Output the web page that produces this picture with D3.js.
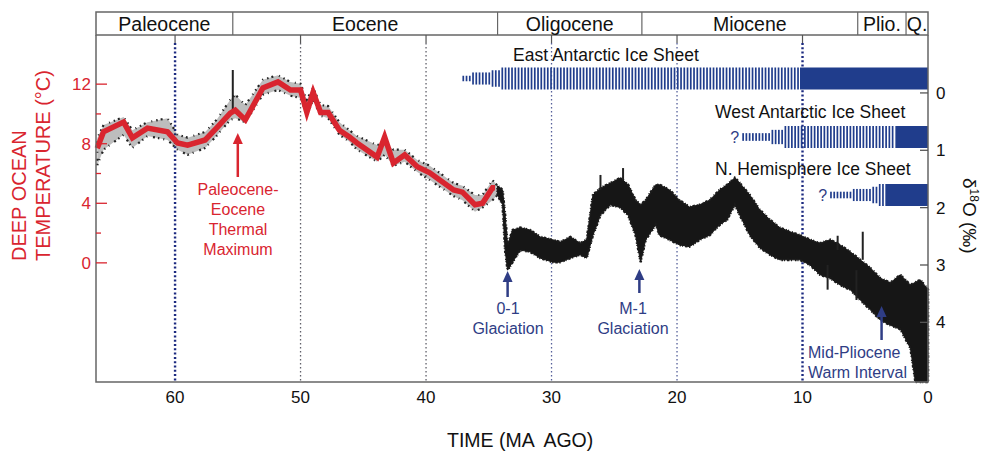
<!DOCTYPE html>
<html>
<head>
<meta charset="utf-8">
<script src="https://cdn.jsdelivr.net/npm/d3@7"></script>
<style>
body { margin: 0; background: #fff; }
text { font-family: "Liberation Sans", Arial, Helvetica, sans-serif; }
</style>
</head>
<body>
<div id="chart-area"></div>
<script>

var canvasWidth = 981
var canvasHeight = 452
var margin = {top: 35, right: 53, bottom: 70, left: 96}
var chartWidth = canvasWidth - margin.left - margin.right
var chartHeight = canvasHeight - margin.top - margin.bottom

var red = "#d9252f"
var navy = "#203d8c"
var noteBlue = "#2f3d85"

// geologic epochs (Ma)
var epochNames = ["Paleocene", "Eocene", "Oligocene", "Miocene", "Plio.", "Q."]
var epochOld = [66.3, 55.4, 34.3, 22.8, 5.6, 1.75]
var epochYoung = [55.4, 34.3, 22.8, 5.6, 1.75, 0]

var gridAges = [60, 50, 40, 30, 20, 10]
var ageTicks = [60, 50, 40, 30, 20, 10, 0]
var tempTicks = [0, 4, 8, 12]
var tempMinorTicks = [2, 6, 10]
var d18oTicks = [0, 1, 2, 3, 4]

// deep ocean temperature (red line)
var tempAge = [66.2, 65.7, 64.1, 63.4, 62.2, 60.6, 59.8, 59.0, 57.6, 56.7, 55.6, 55.2, 54.4, 53.0, 51.8, 50.8, 50.0, 49.5, 49.0, 48.4, 47.8, 46.9, 46.1, 45.5, 43.9, 43.3, 42.6, 41.7, 40.7, 39.7, 37.8, 37.1, 36.1, 35.5, 34.7, 34.5]
var tempC = [7.7, 8.8, 9.45, 8.4, 9.05, 8.8, 8.05, 7.9, 8.25, 9.05, 10.05, 10.25, 9.6, 11.75, 12.15, 11.6, 11.6, 10.1, 11.45, 10.1, 10.1, 8.9, 8.45, 8.05, 7.1, 8.45, 6.7, 7.25, 6.45, 6.05, 4.9, 4.75, 3.9, 4.0, 5.05, 5.05]

// benthic d18O record (black band: low / high envelope, per mil)
var d18oAge = [66.2, 65.7, 64.1, 63.4, 62.2, 60.6, 59.8, 59.0, 57.6, 56.7, 55.6, 55.2, 54.4, 53.0, 51.8, 50.8, 50.0, 49.5, 49.0, 48.4, 47.8, 46.9, 46.1, 45.5, 43.9, 43.3, 42.6, 41.7, 40.7, 39.7, 37.8, 37.1, 36.1, 35.5, 34.7,
  34.3, 33.9, 33.7, 33.5, 33.1, 32.5, 31.7, 30.9, 29.9, 29.3, 28.5, 27.7, 27.2, 26.7, 26.1, 25.3, 24.5, 23.9, 23.3, 22.9, 22.5, 21.7, 21.4, 20.6, 19.8, 19.0, 18.2, 17.4, 16.6, 16.0, 15.4, 15.0, 14.2, 13.4, 12.6, 11.8, 11.0, 10.2, 9.4, 8.6, 7.8, 7.0, 6.2, 5.4, 4.6, 3.8, 3.0, 2.2, 1.4, 1.0, 0.6, 0.0]
var d18oLow = [0.79, 0.56, 0.42, 0.65, 0.51, 0.44, 0.73, 0.78, 0.68, 0.47, 0.12, 0.03, 0.21, -0.23, -0.31, -0.19, -0.16, 0.12, -0.09, 0.21, 0.23, 0.51, 0.65, 0.75, 0.91, 0.87, 0.99, 0.99, 1.17, 1.27, 1.57, 1.62, 1.78, 1.78, 1.52,
  1.62, 1.69, 2.13, 2.65, 2.39, 2.35, 2.39, 2.51, 2.56, 2.60, 2.51, 2.62, 2.56, 1.78, 1.66, 1.57, 1.48, 1.60, 1.87, 1.95, 1.87, 1.60, 1.60, 1.69, 1.87, 1.99, 1.95, 1.87, 1.69, 1.60, 1.48, 1.57, 1.78, 2.04, 2.21, 2.35, 2.42, 2.48, 2.56, 2.62, 2.56, 2.65, 2.77, 2.91, 3.05, 3.23, 3.31, 3.17, 3.35, 3.30, 3.26, 3.43]
var d18oHigh = [1.26, 0.99, 0.73, 0.96, 0.75, 0.82, 0.99, 1.08, 0.96, 0.75, 0.47, 0.44, 0.51, 0.03, -0.05, 0.05, 0.09, 0.38, 0.12, 0.40, 0.44, 0.73, 0.85, 0.99, 1.20, 1.08, 1.27, 1.20, 1.38, 1.52, 1.80, 1.87, 2.07, 2.00, 1.87,
  1.78, 1.95, 2.74, 3.09, 2.95, 2.74, 2.77, 2.88, 2.95, 2.95, 2.88, 2.82, 2.88, 2.48, 2.13, 1.95, 2.00, 2.13, 2.48, 2.95, 2.56, 2.30, 2.48, 2.56, 2.65, 2.68, 2.56, 2.48, 2.30, 2.21, 1.95, 2.13, 2.48, 2.70, 2.82, 2.91, 2.91, 2.91, 3.00, 3.17, 3.23, 3.35, 3.43, 3.61, 3.78, 3.96, 4.05, 4.12, 4.45, 5.04, 5.04, 5.04]

// isolated excursions in the d18O record [age, from, to]
var d18oSpikes = [[55.4, -0.40, 0.30], [26.1, 1.43, 1.69], [24.3, 1.31, 1.52], [8.0, 3.00, 3.43], [7.2, 2.49, 2.74], [5.7, 3.09, 3.61], [5.2, 2.42, 2.91]]

// ice sheets
var iceNames = ["East Antarctic Ice Sheet", "West Antarctic Ice Sheet", "N. Hemisphere Ice Sheet"]
var iceSolidFrom = [10.2, 2.6, 3.4]
var iceTaperAge = [[37.1, 36.5, 34.9, 34.1], [14.8, 12.6, 11.5], [7.8, 6.2, 4.6, 4.0]]
var iceTaperFrac = [[0.25, 0.55, 0.75, 1], [0.35, 0.65, 1], [0.3, 0.55, 0.75, 1]]
var iceUncertain = [false, true, true]

var icePos = [{y: 78.5, labelX: 513, labelY: 61}, {y: 137, labelX: 715, labelY: 118}, {y: 195, labelX: 715, labelY: 175}]
var iceBarH = 22

var svg = d3.select("#chart-area")
	.append("svg")
	.attr("width", canvasWidth)
	.attr("height", canvasHeight)

var x = d3.scaleLinear()
	.domain([66.3, 0])
	.range([margin.left, margin.left + chartWidth])

var yTemp = d3.scaleLinear()
	.domain([-8, 15.3])
	.range([margin.top + chartHeight, margin.top])

var yIso = d3.scaleLinear()
	.domain([-1.01, 5.04])
	.range([margin.top, margin.top + chartHeight])

var plotLeft = margin.left, plotRight = margin.left + chartWidth
var plotTop = margin.top, plotBottom = margin.top + chartHeight

// epoch band
var band = svg.append("g")
band.append("rect")
	.attr("x", plotLeft).attr("y", 12)
	.attr("width", chartWidth).attr("height", plotTop - 12)
	.attr("fill", "none").attr("stroke", "#666").attr("stroke-width", 1.5)
band.selectAll("line")
	.data(epochOld.slice(1))
	.enter().append("line")
		.attr("x1", function(d){ return x(d) }).attr("x2", function(d){ return x(d) })
		.attr("y1", 12).attr("y2", plotTop)
		.attr("stroke", "#666").attr("stroke-width", 1.2)
band.selectAll("text")
	.data(epochNames)
	.enter().append("text")
		.attr("x", function(d, i){ return (x(epochOld[i]) + x(epochYoung[i])) / 2 })
		.attr("y", 31)
		.attr("text-anchor", "middle")
		.attr("font-size", "19.5px")
		.attr("fill", "#111")
		.text(function(d){ return d })

// vertical dotted grid lines
svg.append("g").selectAll("line")
	.data(gridAges)
	.enter().append("line")
		.attr("x1", function(d){ return x(d) }).attr("x2", function(d){ return x(d) })
		.attr("y1", plotTop + 8).attr("y2", plotBottom)
		.attr("stroke", function(d){ return (d == 60 || d == 10) ? "#1c2a80" : (d < 40 ? "#56609a" : "#60606a") })
		.attr("stroke-width", function(d){ return (d == 60 || d == 10) ? 2.4 : 1.3 })
		.attr("stroke-dasharray", function(d){ return (d == 60 || d == 10) ? "2,2.3" : "1.5,2.5" })

svg.append("g").selectAll("line")
	.data(gridAges)
	.enter().append("line")
		.attr("x1", function(d){ return x(d) }).attr("x2", function(d){ return x(d) })
		.attr("y1", plotTop).attr("y2", plotTop + 8)
		.attr("stroke", "#555").attr("stroke-width", 1.2)

// d18O record
var records = d18oAge.map(function(a, i){ return {age: a, lo: d18oLow[i], hi: d18oHigh[i]} })
var area = d3.area()
	.x(function(d){ return x(d.age) })
	.y0(function(d){ return yIso(d.lo) })
	.y1(function(d){ return yIso(d.hi) })

var early = records.filter(function(d){ return d.age >= 34.3 })
var late = records.filter(function(d){ return d.age <= 34.3 })

svg.append("path")
	.datum(early)
	.attr("d", area)
	.attr("fill", "#333").attr("opacity", 0.32)
svg.append("path")
	.datum(early)
	.attr("d", area)
	.attr("fill", "none")
	.attr("stroke", "#222").attr("stroke-width", 2.2)
	.attr("stroke-dasharray", "1.5,4,1,6,2,3")

svg.append("path")
	.datum(late)
	.attr("d", area)
	.attr("fill", "#161616")
	.attr("stroke", "#161616").attr("stroke-width", 1)
svg.append("path")
	.datum(late)
	.attr("d", area)
	.attr("fill", "none")
	.attr("stroke", "#1a1a1a").attr("stroke-width", 2.6)
	.attr("stroke-dasharray", "1,2,2.5,1.5,1,3,1.5,1")

svg.append("g").selectAll("line")
	.data(d18oSpikes)
	.enter().append("line")
		.attr("x1", function(d){ return x(d[0]) }).attr("x2", function(d){ return x(d[0]) })
		.attr("y1", function(d){ return yIso(d[1]) }).attr("y2", function(d){ return yIso(d[2]) })
		.attr("stroke", "#222").attr("stroke-width", 2)

// temperature line
var tempLine = d3.line()
	.x(function(d, i){ return x(tempAge[i]) })
	.y(function(d){ return yTemp(d) })

svg.append("path")
	.datum(tempC)
	.attr("d", tempLine)
	.attr("fill", "none")
	.attr("stroke", red)
	.attr("stroke-width", 5.5)
	.attr("stroke-linejoin", "miter")

// ice sheet bars
function taperFrac(k, age) {
	var f = iceTaperFrac[k][0]
	iceTaperAge[k].forEach(function(a, j){ if (age <= a) f = iceTaperFrac[k][j] })
	return f
}

iceNames.forEach(function(name, k){
	var pos = icePos[k]
	var g = svg.append("g")
	var xStart = x(iceTaperAge[k][0])
	var xSolid = x(iceSolidFrom[k])
	var stripes = d3.range(xStart, xSolid - 1, 3.25)
	g.selectAll("rect.stripe")
		.data(stripes)
		.enter().append("rect")
			.attr("class", "stripe")
			.attr("x", function(d){ return d })
			.attr("width", 1.7)
			.attr("y", function(d){ return pos.y - iceBarH * taperFrac(k, x.invert(d)) / 2 })
			.attr("height", function(d){ return iceBarH * taperFrac(k, x.invert(d)) })
			.attr("fill", navy)
	g.append("rect")
		.attr("x", xSolid).attr("width", plotRight - xSolid)
		.attr("y", pos.y - iceBarH / 2).attr("height", iceBarH)
		.attr("fill", navy)
	g.append("text")
		.attr("x", pos.labelX).attr("y", pos.labelY)
		.attr("font-size", "17.5px").attr("fill", "#111")
		.text(name)
	if (iceUncertain[k]) {
		g.append("text")
			.attr("x", xStart - 3).attr("y", pos.y + 6)
			.attr("text-anchor", "end")
			.attr("font-size", "16px").attr("fill", noteBlue)
			.text("?")
	}
})

// frame
svg.append("path")
	.attr("d", "M" + plotLeft + "," + plotTop + "V" + plotBottom + "H" + plotRight + "V" + plotTop)
	.attr("fill", "none").attr("stroke", "#666").attr("stroke-width", 1.5)

// left temperature axis (ticks inside)
svg.append("g").selectAll("line")
	.data(tempTicks.concat(tempMinorTicks))
	.enter().append("line")
		.attr("x1", plotLeft).attr("x2", function(d){ return tempTicks.indexOf(d) >= 0 ? plotLeft + 11 : plotLeft + 5 })
		.attr("y1", function(d){ return yTemp(d) }).attr("y2", function(d){ return yTemp(d) })
		.attr("stroke", red).attr("stroke-width", 1.3)
svg.append("g").selectAll("text")
	.data(tempTicks)
	.enter().append("text")
		.attr("x", plotLeft - 5).attr("y", function(d){ return yTemp(d) + 6 })
		.attr("text-anchor", "end")
		.attr("font-size", "17px").attr("fill", red)
		.text(function(d){ return d })

svg.append("text")
	.attr("transform", "translate(26,261) rotate(-90)")
	.attr("font-size", "20px").attr("fill", red)
	.text("DEEP OCEAN")
svg.append("text")
	.attr("transform", "translate(50,261) rotate(-90)")
	.attr("font-size", "20px").attr("fill", red)
	.text("TEMPERATURE (°C)")

// right d18O axis
svg.append("g").selectAll("line")
	.data(d18oTicks)
	.enter().append("line")
		.attr("x1", plotRight - 8).attr("x2", plotRight)
		.attr("y1", function(d){ return yIso(d) }).attr("y2", function(d){ return yIso(d) })
		.attr("stroke", "#555").attr("stroke-width", 1.3)
svg.append("g").selectAll("text")
	.data(d18oTicks)
	.enter().append("text")
		.attr("x", plotRight + 8).attr("y", function(d){ return yIso(d) + 6 })
		.attr("font-size", "17px").attr("fill", "#111")
		.text(function(d){ return d })

var isoLabel = svg.append("text")
	.attr("transform", "translate(963,178) rotate(90)")
	.attr("font-size", "19px").attr("fill", "#111")
isoLabel.append("tspan").text("δ")
isoLabel.append("tspan").attr("font-size", "12px").attr("dy", -7).text("18")
isoLabel.append("tspan").attr("dy", 7).text("O (‰)")

// bottom time axis
svg.append("g").selectAll("text")
	.data(ageTicks)
	.enter().append("text")
		.attr("x", function(d){ return x(d) }).attr("y", 403)
		.attr("text-anchor", "middle")
		.attr("font-size", "17px").attr("fill", "#111")
		.text(function(d){ return d })

svg.append("text")
	.attr("x", 447).attr("y", 447)
	.attr("font-size", "19.5px").attr("fill", "#111")
	.attr("xml:space", "preserve")
	.text("TIME (MA  AGO)")

// annotations
var notes = [
	{lines: ["Paleocene-", "Eocene", "Thermal", "Maximum"], color: red, tx: 238, ty: 195, anchor: "middle", age: 55.0, tip: 133, base: 177},
	{lines: ["0-1", "Glaciation"], color: noteBlue, tx: 508, ty: 314, anchor: "middle", age: 33.5, tip: 271, base: 297},
	{lines: ["M-1", "Glaciation"], color: noteBlue, tx: 633, ty: 314, anchor: "middle", age: 23.0, tip: 269, base: 293},
	{lines: ["Mid-Pliocene", "Warm Interval"], color: noteBlue, tx: 808, ty: 358, anchor: "start", age: 3.7, tip: 306, base: 340}
]

notes.forEach(function(n){
	var g = svg.append("g")
	g.selectAll("text")
		.data(n.lines)
		.enter().append("text")
			.attr("x", n.tx).attr("y", function(d, i){ return n.ty + i * 20 })
			.attr("text-anchor", n.anchor)
			.attr("font-size", "16px").attr("fill", n.color)
			.text(function(d){ return d })
	var ax = x(n.age)
	g.append("line")
		.attr("x1", ax).attr("x2", ax)
		.attr("y1", n.base).attr("y2", n.tip + 8)
		.attr("stroke", n.color).attr("stroke-width", 2.5)
	g.append("path")
		.attr("d", "M" + ax + "," + n.tip + "L" + (ax - 5) + "," + (n.tip + 11) + "L" + (ax + 5) + "," + (n.tip + 11) + "Z")
		.attr("fill", n.color)
})

</script>
</body>
</html>
